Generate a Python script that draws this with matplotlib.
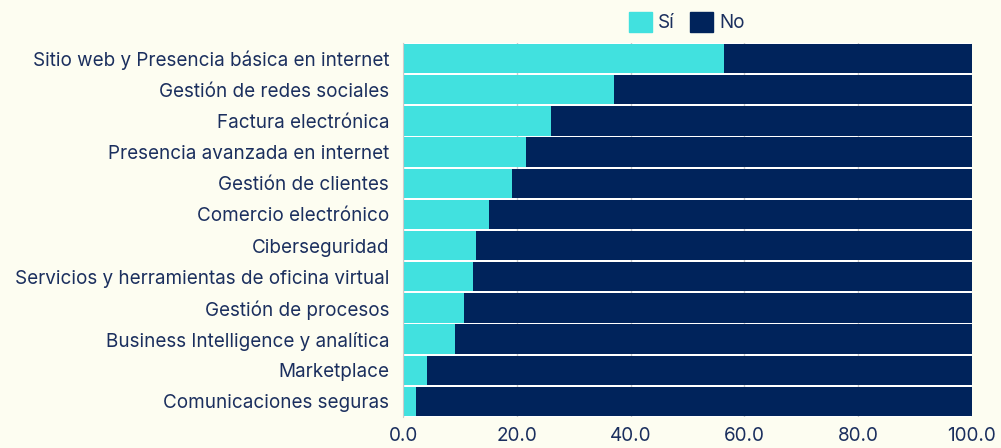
import numpy as np
import matplotlib.pyplot as plt
from matplotlib.patches import Patch

plt.rcParams['font.family'] = ['Inter', 'DejaVu Sans']

categorias = ['Sitio web y Presencia básica en internet', 'Gestión de redes sociales',
              'Factura electrónica', 'Presencia avanzada en internet', 'Gestión de clientes',
              'Comercio electrónico', 'Ciberseguridad', 'Servicios y herramientas de oficina virtual',
              'Gestión de procesos', 'Business Intelligence y analítica', 'Marketplace',
              'Comunicaciones seguras']
si = [56.4, 37.1, 26.0, 21.6, 19.2, 15.1, 12.8, 12.3, 10.7, 9.1, 4.2, 2.3]
no = [100 - v for v in si]
xticks = [0, 20, 40, 60, 80, 100]

bg = '#fdfdf1'
cyan = '#41e1df'
navy = '#00235b'
txt = '#1b2f5e'

fig = plt.figure(figsize=(10.01, 4.48), dpi=100, facecolor=bg)
ax = fig.add_axes([0.4026, 0.0692, 0.5684, 0.8348])
ax.set_facecolor('white')

y = np.arange(len(categorias))
ax.barh(y, si, height=0.94, color=cyan, zorder=2)
ax.barh(y, no, left=si, height=0.94, color=navy, zorder=2)

ax.set_ylim(len(categorias) - 0.5, -0.5)
ax.set_xlim(0, 100)
ax.set_yticks(y)
ax.set_yticklabels(categorias)
ax.set_xticks(xticks)
ax.set_xticklabels(['%.1f' % t for t in xticks])
ax.tick_params(length=0, labelsize=13.6, labelcolor=txt)
ax.tick_params(axis='y', pad=10)
ax.tick_params(axis='x', pad=7)
ax.grid(axis='x', color='#cccccc', lw=1, zorder=0)
for s in ['top', 'right', 'bottom']:
    ax.spines[s].set_visible(False)
ax.spines['left'].set_color('#cccccc')

handles = [Patch(color=cyan, label='Sí'), Patch(color=navy, label='No')]
fig.legend(handles=handles, loc='center', bbox_to_anchor=(0.686, 0.951), ncol=2, frameon=False,
           fontsize=13.6, labelcolor=txt, handlelength=1.25, handleheight=1.25,
           handletextpad=0.3, columnspacing=0.8)

fig.savefig('out.png', dpi=100, facecolor=bg)
